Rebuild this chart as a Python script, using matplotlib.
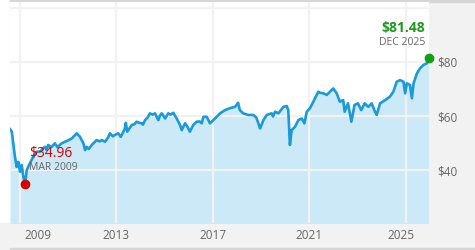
import matplotlib
matplotlib.use("Agg")
import matplotlib.pyplot as plt
import matplotlib.transforms as mtransforms
from matplotlib.patches import Rectangle

# price history (decimal years)
years = [2008.59, 2008.66, 2008.72, 2008.79, 2008.86, 2008.93, 2009.00, 2009.07, 2009.14, 2009.21,
         2009.28, 2009.41, 2009.55, 2009.69, 2009.83, 2009.95, 2010.04, 2010.10, 2010.17, 2010.30,
         2010.45, 2010.55, 2010.73, 2010.87, 2011.00, 2011.15, 2011.35, 2011.49, 2011.63, 2011.70,
         2011.77, 2011.85, 2011.98, 2012.18, 2012.30, 2012.39, 2012.53, 2012.65, 2012.73, 2012.85,
         2012.94, 2013.08, 2013.18, 2013.29, 2013.35, 2013.39, 2013.45, 2013.55, 2013.64, 2013.75,
         2013.84, 2013.95, 2014.05, 2014.10, 2014.19, 2014.30, 2014.39, 2014.50, 2014.60, 2014.74,
         2014.80, 2014.88, 2015.02, 2015.15, 2015.25, 2015.36, 2015.50, 2015.64, 2015.71, 2015.85,
         2015.95, 2016.05, 2016.19, 2016.33, 2016.45, 2016.54, 2016.61, 2016.75, 2016.88, 2017.09,
         2017.30, 2017.51, 2017.71, 2017.92, 2018.05, 2018.12, 2018.26, 2018.47, 2018.68, 2018.80,
         2018.89, 2018.96, 2019.10, 2019.24, 2019.44, 2019.50, 2019.58, 2019.72, 2019.93, 2020.07,
         2020.13, 2020.18, 2020.20, 2020.27, 2020.41, 2020.55, 2020.69, 2020.80, 2020.90, 2021.03,
         2021.17, 2021.24, 2021.38, 2021.45, 2021.59, 2021.73, 2021.86, 2022.00, 2022.07, 2022.14,
         2022.20, 2022.27, 2022.41, 2022.47, 2022.61, 2022.75, 2022.88, 2023.02, 2023.16, 2023.30,
         2023.45, 2023.59, 2023.73, 2023.80, 2023.94, 2024.15, 2024.35, 2024.49, 2024.63, 2024.77,
         2024.91, 2024.98, 2025.05, 2025.18, 2025.26, 2025.33, 2025.47, 2025.60, 2025.74, 2025.88,
         2025.95]
prices = [55.1, 54.2, 50.0, 45.0, 41.2, 43.0, 39.4, 41.9, 37.5, 34.96,
          40.0, 42.5, 45.0, 46.8, 46.8, 48.0, 48.6, 47.5, 49.3, 48.5,
          49.9, 48.5, 49.9, 50.5, 51.0, 51.7, 53.6, 52.3, 49.9, 47.4,
          48.6, 47.8, 49.3, 51.1, 50.6, 51.1, 50.5, 52.0, 53.6, 52.5,
          53.0, 53.6, 52.3, 54.2, 55.4, 57.5, 54.2, 55.5, 56.7, 57.0,
          57.9, 57.5, 57.3, 56.8, 58.5, 59.5, 61.0, 60.5, 61.0, 58.5,
          60.0, 61.0, 59.1, 61.0, 60.5, 61.2, 59.1, 56.7, 54.8, 57.3,
          56.0, 54.2, 56.7, 57.9, 58.0, 57.3, 59.7, 59.7, 57.3, 59.1,
          61.0, 62.2, 62.9, 63.4, 64.9, 62.2, 61.0, 60.4, 60.4, 59.5,
          57.3, 55.4, 58.5, 60.4, 61.0, 59.8, 61.6, 61.0, 63.4, 63.7,
          62.2, 53.0, 49.3, 54.8, 56.0, 58.5, 59.1, 57.3, 61.6, 62.9,
          65.3, 66.6, 69.0, 68.6, 68.4, 67.8, 69.0, 70.2, 69.3, 68.4,
          67.0, 65.3, 65.9, 61.6, 64.7, 57.9, 64.1, 64.7, 62.2, 64.7,
          63.4, 64.7, 61.6, 60.4, 64.7, 65.9, 67.2, 69.0, 72.7, 73.3,
          72.7, 68.4, 72.1, 71.5, 66.6, 72.1, 75.8, 77.7, 78.9, 79.5,
          81.48]

low_year, low_price, low_label = 2009.21, 34.96, "MAR 2009"
last_year, last_price, last_label = 2025.95, 81.48, "DEC 2025"

year_ticks = [2009, 2013, 2017, 2021, 2025]
price_ticks = [40, 60, 80, 100]
price_labels = ["$40", "$60", "$80", ""]

plt.rcParams["font.family"] = ["Open Sans", "DejaVu Sans"]

W, H = 475, 250
fig = plt.figure(figsize=(W / 100, H / 100), dpi=100, facecolor="white")

# grey frame around the plot (label strips)
fig.patches.append(Rectangle((10 / W, 0), 1, 1, transform=fig.transFigure,
                             color="#f2f2f2", zorder=-3))
fig.patches.append(Rectangle((0, 0), 1, 27.5 / H, transform=fig.transFigure,
                             color="#f2f2f2", zorder=-3))
fig.patches.append(Rectangle((10 / W, 1 - 2 / H), 1, 2 / H, transform=fig.transFigure,
                             color="#d6d6d6", zorder=-2))
fig.patches.append(Rectangle((10 / W, 0), 1, 2.5 / H, transform=fig.transFigure,
                             color="#d6d6d6", zorder=-2))

ax = fig.add_axes([10 / W, 27.5 / H, 419 / W, 220.5 / H])
ax.set_facecolor("white")

line_col = "#1a9ad9"
ax.fill_between(years, prices, 0, color="#cce9f7", lw=0, zorder=1)
ax.plot(years, prices, color=line_col, lw=1.9, zorder=3, solid_joinstyle="round")

ax.set_xlim(2008.585, 2025.97)
ax.set_ylim(20.6, 102.2)

ax.set_axisbelow(False)
ax.grid(True, color="#f2f2f2", lw=1.6, zorder=2)
for s in ax.spines.values():
    s.set_visible(False)

ax.set_xticks(year_ticks)
ax.set_xticklabels([str(y) for y in year_ticks])
ax.set_yticks(price_ticks)
ax.set_yticklabels(price_labels)
ax.yaxis.tick_right()
ax.tick_params(axis="both", length=0, labelsize=8.5, labelcolor="#666666")
ax.tick_params(axis="x", pad=4.5)
ax.tick_params(axis="y", pad=6)

# first and last year labels are nudged inwards
xl = ax.get_xticklabels()
xl[0].set_transform(xl[0].get_transform() + mtransforms.ScaledTranslation(18 / 100, 0, fig.dpi_scale_trans))
xl[-1].set_transform(xl[-1].get_transform() + mtransforms.ScaledTranslation(-5 / 100, 0, fig.dpi_scale_trans))

# low point
ax.plot([low_year], [low_price], "o", color="#d40000", ms=6, zorder=5, clip_on=False)
ax.annotate(f"${low_price:.2f}", (low_year, low_price), xytext=(3, 22), textcoords="offset points",
            color="#d40000", fontsize=10, ha="left", va="center", zorder=6)
ax.annotate(low_label, (low_year, low_price), xytext=(3, 11.5), textcoords="offset points",
            color="#666666", fontsize=7.5, ha="left", va="center", zorder=6)

# last point
ax.plot([last_year], [last_price], "o", color="#10a010", ms=6, zorder=5, clip_on=False)
ax.annotate(f"${last_price:.2f}", (last_year, last_price), xytext=(-2.5, 21.5), textcoords="offset points",
            color="#1a9a1a", fontsize=10, fontweight="bold", ha="right", va="center", zorder=6)
ax.annotate(last_label, (last_year, last_price), xytext=(-2.5, 11.5), textcoords="offset points",
            color="#666666", fontsize=7.5, ha="right", va="center", zorder=6)

fig.savefig("out.png", dpi=100, facecolor=fig.get_facecolor())
